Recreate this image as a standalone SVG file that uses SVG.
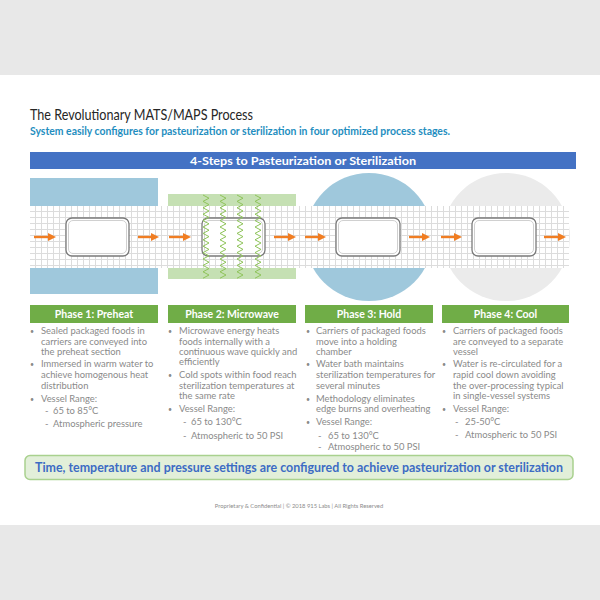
<svg xmlns="http://www.w3.org/2000/svg" width="600" height="600" viewBox="0 0 600 600">
<defs>
<style>
.t{font-family:Lato,"Open Sans","Liberation Sans",sans-serif}
.body{font-family:Lato,"Open Sans",sans-serif;font-size:9.4px;fill:#8a8a8a}
.hdr{font-family:Lato,"Open Sans",sans-serif;font-size:10.5px;font-weight:bold;fill:#fff;text-anchor:middle}
.pkg{fill:#fff;stroke:#7a7a7a;stroke-width:1.3}
.pkgin{fill:none;stroke:#d0d0d0;stroke-width:1}
.arr{stroke:#f07d22;stroke-width:2.4;fill:none;marker-end:url(#ah)}
.wave{fill:none;stroke:#8fc45a;stroke-width:1}
.phase{fill:#70ad47}
</style>
<pattern id="grid" x="30" y="206" width="6" height="6" patternUnits="userSpaceOnUse">
<rect width="6" height="6" fill="#fff"/>
<path d="M5.5 0V6M0 5.5H6" stroke="#dcdcdc" stroke-width="1"/>
</pattern>
<marker id="ah" markerUnits="userSpaceOnUse" markerWidth="8" markerHeight="8" refX="1" refY="4" orient="auto">
<path d="M0 0L8 4L0 8Z" fill="#f07d22"/>
</marker>
</defs>
<rect width="600" height="600" fill="#fff"/>
<rect x="0" y="0" width="600" height="75" fill="#e8e8e8"/>
<rect x="0" y="525" width="600" height="75" fill="#e8e8e8"/>

<text class="t" x="30" y="120" font-size="15" fill="#262626" textLength="223" lengthAdjust="spacingAndGlyphs">The Revolutionary MATS/MAPS Process</text>
<text class="t" x="30" y="135" font-size="10.5" font-weight="bold" fill="#1f8ec0" textLength="420" lengthAdjust="spacingAndGlyphs">System easily configures for pasteurization or sterilization in four optimized process stages.</text>

<g id="title-bar">
<rect x="30" y="152" width="546" height="17" fill="#4472c4"/>
<text class="t" x="303" y="164.5" text-anchor="middle" font-size="11" font-weight="bold" fill="#fff" textLength="226" lengthAdjust="spacingAndGlyphs">4-Steps to Pasteurization or Sterilization</text>
</g>

<g id="backgrounds">
<rect x="30" y="178" width="128" height="30" fill="#9fc8dc"/>
<rect x="30" y="266" width="128" height="28" fill="#9fc8dc"/>
<rect x="168" y="194" width="128" height="14" fill="#c5e0b3"/>
<rect x="168" y="266" width="128" height="13" fill="#c5e0b3"/>
<circle cx="369" cy="237" r="64" fill="#9fc8dc"/>
<circle cx="506" cy="237" r="64" fill="#ebebeb"/>
</g>

<rect id="conveyor" x="30" y="206" width="539" height="62" fill="url(#grid)"/>

<g id="pkg1"><rect class="pkg" x="66" y="218" width="63" height="38" rx="6"/><rect class="pkgin" x="68.5" y="220.5" width="58" height="33" rx="4.5"/></g>
<g id="pkg2"><rect class="pkg" x="202" y="218" width="63" height="38" rx="6"/><rect class="pkgin" x="204.5" y="220.5" width="58" height="33" rx="4.5"/></g>
<g id="pkg3"><rect class="pkg" x="336" y="218" width="64" height="38" rx="6"/><rect class="pkgin" x="338.5" y="220.5" width="59" height="33" rx="4.5"/></g>
<g id="pkg4"><rect class="pkg" x="472" y="218" width="64" height="38" rx="6"/><rect class="pkgin" x="474.5" y="220.5" width="59" height="33" rx="4.5"/></g>

<g id="waves">
<path class="wave" d="M203 195l6 3.2l-6 3.2l6 3.2l-6 3.2l6 3.2l-6 3.2l6 3.2l-6 3.2l6 3.2l-6 3.2l6 3.2l-6 3.2l6 3.2l-6 3.2l6 3.2l-6 3.2l6 3.2l-6 3.2l6 3.2l-6 3.2l6 3.2l-6 3.2l6 3.2l-6 3.2l6 3.2l-6 3.2"/>
<path class="wave" d="M220 195l6 3.2l-6 3.2l6 3.2l-6 3.2l6 3.2l-6 3.2l6 3.2l-6 3.2l6 3.2l-6 3.2l6 3.2l-6 3.2l6 3.2l-6 3.2l6 3.2l-6 3.2l6 3.2l-6 3.2l6 3.2l-6 3.2l6 3.2l-6 3.2l6 3.2l-6 3.2l6 3.2l-6 3.2"/>
<path class="wave" d="M237 195l6 3.2l-6 3.2l6 3.2l-6 3.2l6 3.2l-6 3.2l6 3.2l-6 3.2l6 3.2l-6 3.2l6 3.2l-6 3.2l6 3.2l-6 3.2l6 3.2l-6 3.2l6 3.2l-6 3.2l6 3.2l-6 3.2l6 3.2l-6 3.2l6 3.2l-6 3.2l6 3.2l-6 3.2"/>
<path class="wave" d="M255 195l6 3.2l-6 3.2l6 3.2l-6 3.2l6 3.2l-6 3.2l6 3.2l-6 3.2l6 3.2l-6 3.2l6 3.2l-6 3.2l6 3.2l-6 3.2l6 3.2l-6 3.2l6 3.2l-6 3.2l6 3.2l-6 3.2l6 3.2l-6 3.2l6 3.2l-6 3.2l6 3.2l-6 3.2"/>
</g>

<g id="connectors">
<line class="arr" x1="34" y1="237" x2="49" y2="237"/>
<line class="arr" x1="138" y1="237" x2="152" y2="237"/>
<line class="arr" x1="169" y1="237" x2="184" y2="237"/>
<line class="arr" x1="274" y1="237" x2="289" y2="237"/>
<line class="arr" x1="305" y1="237" x2="319" y2="237"/>
<line class="arr" x1="409" y1="237" x2="423" y2="237"/>
<line class="arr" x1="441" y1="237" x2="455" y2="237"/>
<line class="arr" x1="544" y1="237" x2="559" y2="237"/>
</g>

<g id="phase1">
<rect class="phase" x="30" y="305" width="128" height="18"/>
<text class="hdr" x="94" y="318">Phase 1: Preheat</text>
<g class="body">
<text x="30" y="334" font-size="7">•</text><text x="41" y="334">Sealed packaged foods in</text>
<text x="41" y="344.7">carriers are conveyed into</text>
<text x="41" y="355">the preheat section</text>
<text x="30" y="367.3" font-size="7">•</text><text x="41" y="367.3">Immersed in warm water to</text>
<text x="41" y="378">achieve homogenous heat</text>
<text x="41" y="388.7">distribution</text>
<text x="30" y="402" font-size="7">•</text><text x="41" y="402">Vessel Range:</text>
<text x="45" y="414">-</text><text x="53" y="414">65 to 85°C</text>
<text x="45" y="426.5">-</text><text x="53" y="426.5">Atmospheric pressure</text>
</g>
</g>

<g id="phase2">
<rect class="phase" x="168" y="305" width="128" height="18"/>
<text class="hdr" x="232" y="318">Phase 2: Microwave</text>
<g class="body">
<text x="168" y="334" font-size="7">•</text><text x="179" y="334">Microwave energy heats</text>
<text x="179" y="344.7">foods internally with a</text>
<text x="179" y="355">continuous wave quickly and</text>
<text x="179" y="365.3">efficiently</text>
<text x="168" y="378" font-size="7">•</text><text x="179" y="378">Cold spots within food reach</text>
<text x="179" y="388.7">sterilization temperatures at</text>
<text x="179" y="399">the same rate</text>
<text x="168" y="412" font-size="7">•</text><text x="179" y="412">Vessel Range:</text>
<text x="183" y="425.3">-</text><text x="191" y="425.3">65 to 130°C</text>
<text x="183" y="439">-</text><text x="191" y="439">Atmospheric to 50 PSI</text>
</g>
</g>

<g id="phase3">
<rect class="phase" x="305" y="305" width="128" height="18"/>
<text class="hdr" x="369" y="318">Phase 3: Hold</text>
<g class="body">
<text x="306" y="334" font-size="7">•</text><text x="316" y="334">Carriers of packaged foods</text>
<text x="316" y="344.7">move into a holding</text>
<text x="316" y="355">chamber</text>
<text x="306" y="367.3" font-size="7">•</text><text x="316" y="367.3">Water bath maintains</text>
<text x="316" y="378">sterilization temperatures for</text>
<text x="316" y="388.7">several minutes</text>
<text x="306" y="402" font-size="7">•</text><text x="316" y="402">Methodology eliminates</text>
<text x="316" y="412">edge burns and overheating</text>
<text x="306" y="425.3" font-size="7">•</text><text x="316" y="425.3">Vessel Range:</text>
<text x="318" y="439">-</text><text x="328" y="439">65 to 130°C</text>
<text x="318" y="449.5">-</text><text x="328" y="449.5">Atmospheric to 50 PSI</text>
</g>
</g>

<g id="phase4">
<rect class="phase" x="442" y="305" width="127" height="18"/>
<text class="hdr" x="505.5" y="318">Phase 4: Cool</text>
<g class="body">
<text x="442" y="334" font-size="7">•</text><text x="453" y="334">Carriers of packaged foods</text>
<text x="453" y="344.7">are conveyed to a separate</text>
<text x="453" y="355">vessel</text>
<text x="442" y="367.3" font-size="7">•</text><text x="453" y="367.3">Water is re-circulated for a</text>
<text x="453" y="378">rapid cool down avoiding</text>
<text x="453" y="388.7">the over-processing typical</text>
<text x="453" y="399">in single-vessel systems</text>
<text x="442" y="412" font-size="7">•</text><text x="453" y="412">Vessel Range:</text>
<text x="455" y="425.3">-</text><text x="465" y="425.3">25-50°C</text>
<text x="455" y="438">-</text><text x="465" y="438">Atmospheric to 50 PSI</text>
</g>
</g>

<g id="summary">
<rect x="25" y="455.5" width="548" height="24" rx="5" fill="#e2efd9" stroke="#a9d18e" stroke-width="1.5"/>
<text class="t" x="299" y="472" text-anchor="middle" font-size="12.5" font-weight="bold" fill="#3d6cc4" textLength="528" lengthAdjust="spacingAndGlyphs">Time, temperature and pressure settings are configured to achieve pasteurization or sterilization</text>
</g>

<text class="t" x="299" y="508" text-anchor="middle" font-size="5.8" fill="#8c8c8c">Proprietary &amp; Confidential | © 2018 915 Labs | All Rights Reserved</text>
</svg>
